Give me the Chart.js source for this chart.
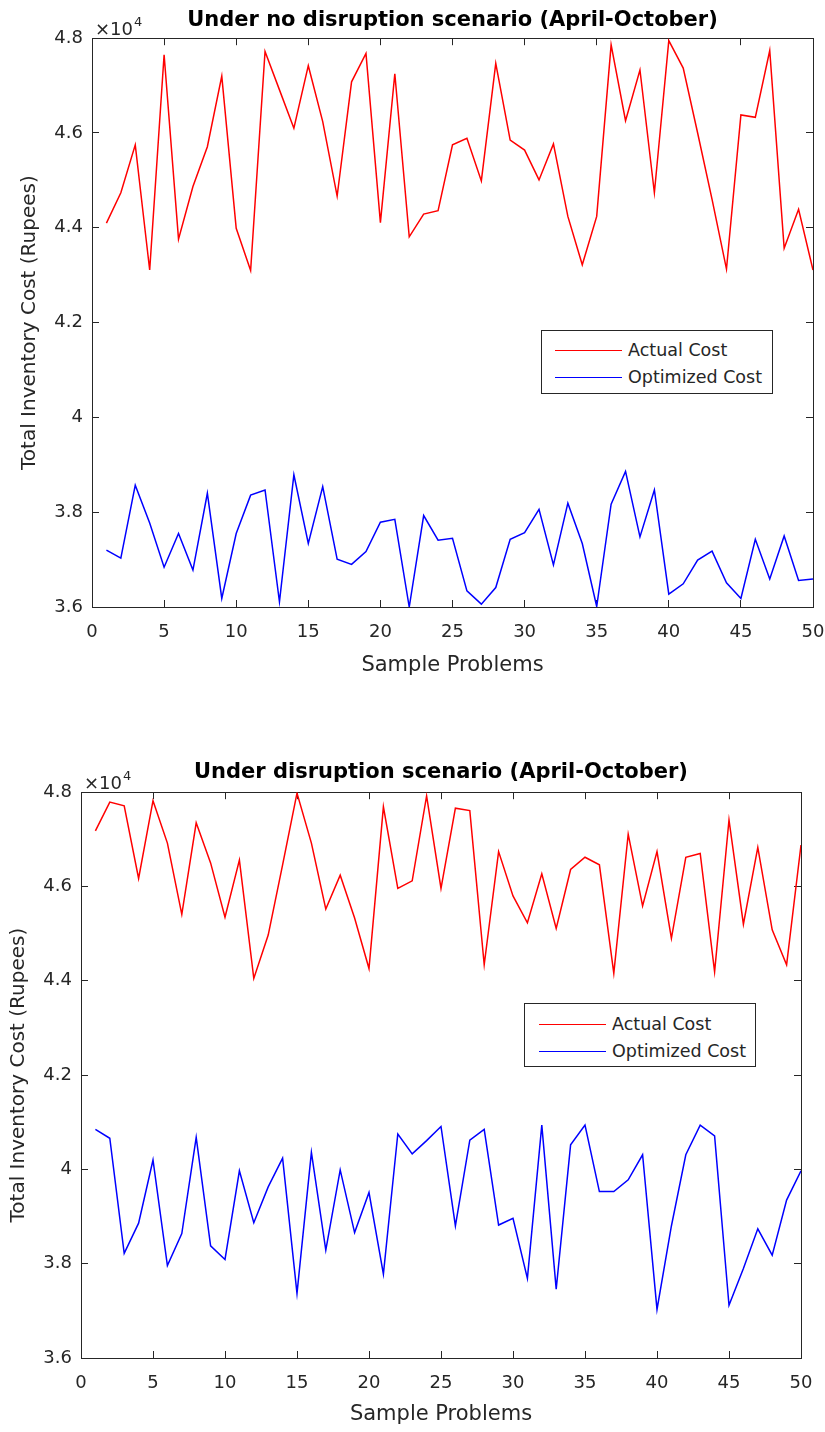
<!DOCTYPE html>
<html>
<head>
<meta charset="utf-8">
<script src="https://cdn.jsdelivr.net/npm/chart.js@4.4.0/dist/chart.umd.min.js"></script>
<style>
  body { margin: 0; background: #fff; }
  #page { position: relative; width: 825px; height: 1432px; overflow: hidden; background: #fff; }
  #page canvas { position: absolute; left: 0; }
  .legend { position: absolute; box-sizing: border-box; border: 1px solid #262626; background: #fff;
            font-family: 'DejaVu Sans'; font-size: 17.5px; color: #262626; }
  .legend .sample { position: absolute; height: 0; }
  .legend .label { position: absolute; line-height: 20px; white-space: nowrap; }
</style>
</head>
<body>
<div id="page">
  <canvas id="chartTop" width="825" height="700" style="top:0"></canvas>
  <canvas id="chartBottom" width="825" height="732" style="top:700px"></canvas>
  <div class="legend" id="legendTop" style="left:541px; top:330px; width:232px; height:64px"></div>
  <div class="legend" id="legendBottom" style="left:524px; top:1003px; width:232px; height:64px"></div>
</div>
<script>
// sample problem numbers (x axis)
var problems = [1, 2, 3, 4, 5, 6, 7, 8, 9, 10, 11, 12, 13, 14, 15, 16, 17, 18, 19, 20,
  21, 22, 23, 24, 25, 26, 27, 28, 29, 30, 31, 32, 33, 34, 35, 36, 37, 38, 39, 40,
  41, 42, 43, 44, 45, 46, 47, 48, 49, 50];

var seriesNames = ['Actual Cost', 'Optimized Cost'];
var seriesColors = ['#ff0000', '#0000ff'];

// total inventory cost in rupees
var noDisruptionActual = [44100, 44740, 45750, 43110, 47650, 43760, 44870, 45710, 47200, 43990,
  43100, 47720, 46910, 46100, 47420, 46240, 44670, 47080, 47680, 44110,
  47250, 43810, 44290, 44360, 45750, 45890, 44990, 47470, 45850, 45640,
  45010, 45770, 44240, 43220, 44240, 47860, 46260, 47330, 44740, 47950,
  47370, 46000, 44600, 43130, 46380, 46330, 47740, 43570, 44390, 43110];
var noDisruptionOptimized = [37200, 37030, 38570, 37770, 36840, 37550, 36780, 38400, 36180, 37550,
  38360, 38470, 36110, 38790, 37340, 38540, 37010, 36900, 37170, 37790,
  37850, 36000, 37930, 37410, 37450, 36340, 36060, 36410, 37430, 37570,
  38060, 36890, 38190, 37340, 36010, 38170, 38860, 37480, 38470, 36270,
  36490, 36990, 37180, 36510, 36180, 37430, 36590, 37500, 36560, 36590];
var disruptionActual = [47180, 47790, 47710, 46170, 47820, 46920, 45410, 47350, 46500, 45350,
  46560, 44050, 44970, 46460, 47980, 46920, 45520, 46240, 45330, 44260,
  47690, 45960, 46120, 47920, 45960, 47660, 47610, 44340, 46740, 45800,
  45230, 46270, 45110, 46360, 46620, 46460, 44160, 47110, 45590, 46740,
  44900, 46620, 46700, 44190, 47410, 45200, 46830, 45080, 44340, 46880];
var disruptionOptimized = [40850, 40660, 38220, 38860, 40200, 37960, 38640, 40680, 38380, 38090,
  39970, 38870, 39630, 40240, 37370, 40360, 38290, 39990, 38660, 39510,
  37780, 40750, 40330, 40610, 40910, 38800, 40620, 40850, 38820, 38960,
  37690, 40940, 37460, 40520, 40940, 39530, 39530, 39780, 40310, 37030,
  38800, 40310, 40940, 40710, 37120, 37900, 38740, 38180, 39350, 39970];

var xTicks = [0, 5, 10, 15, 20, 25, 30, 35, 40, 45, 50];
var yTicks = [36000, 38000, 40000, 42000, 44000, 46000, 48000];
var yExponent = 4;

var axisColor = '#262626';
Chart.defaults.font.family = '"DejaVu Sans"';
Chart.defaults.color = axisColor;

function toPoints(values) {
  return values.map(function (v, i) { return { x: problems[i], y: v }; });
}

// the "x10^4" multiplier above the y axis
var exponentLabel = {
  id: 'exponentLabel',
  afterDraw: function (chart) {
    var ctx = chart.ctx, area = chart.chartArea;
    ctx.save();
    ctx.fillStyle = axisColor;
    ctx.textBaseline = 'alphabetic';
    ctx.font = '18px "DejaVu Sans"';
    ctx.fillText('\u00d710', area.left + 3, area.top - 3);
    var w = ctx.measureText('\u00d710').width;
    ctx.font = '13px "DejaVu Sans"';
    ctx.fillText(String(yExponent), area.left + 4 + w, area.top - 12);
    ctx.restore();
  }
};

function noPad(s) { s.paddingLeft = 0; s.paddingRight = 0; s.paddingTop = 0; s.paddingBottom = 0; }

function boxAxis(pos, ax, size) {
  var lin = ax === 'x' ? { min: xTicks[0], max: xTicks[xTicks.length - 1] } : { min: yTicks[0], max: yTicks[yTicks.length - 1] };
  return {
    type: 'linear', position: pos, axis: ax, min: lin.min, max: lin.max,
    afterBuildTicks: function (s) { s.ticks = (ax === 'x' ? xTicks : yTicks).map(function (v) { return { value: v }; }); },
    afterFit: function (s) { if (ax === 'x') s.height = size; else s.width = size; noPad(s); },
    ticks: { display: false },
    grid: { drawOnChartArea: false, tickLength: -7, color: axisColor, tickColor: axisColor },
    border: { color: axisColor, width: 1 }
  };
}

function buildChart(id, title, actual, optimized, box) {
  var ctx = document.getElementById(id).getContext('2d');
  return new Chart(ctx, {
    type: 'line',
    data: {
      datasets: [
        { label: seriesNames[0], data: toPoints(actual), borderColor: seriesColors[0], borderWidth: 1.5, pointRadius: 0, fill: false, tension: 0 },
        { label: seriesNames[1], data: toPoints(optimized), borderColor: seriesColors[1], borderWidth: 1.5, pointRadius: 0, fill: false, tension: 0 }
      ]
    },
    options: {
      responsive: false,
      animation: false,
      events: [],
      layout: { padding: 0 },
      plugins: {
        legend: { display: false },
        tooltip: { enabled: false },
        title: {
          display: true, text: title, fullSize: false, color: '#000',
          font: { size: 21, weight: 'bold' },
          padding: { top: box.titleTop, bottom: box.titleBottom }
        }
      },
      scales: {
        x: {
          type: 'linear', position: 'bottom', min: 0, max: 50,
          afterBuildTicks: function (s) { s.ticks = xTicks.map(function (v) { return { value: v }; }); },
          afterFit: function (s) { s.height = box.xHeight; noPad(s); },
          ticks: { padding: 22, font: { size: 18 }, color: axisColor },
          grid: { drawOnChartArea: false, tickLength: -7, color: axisColor, tickColor: axisColor },
          border: { color: axisColor, width: 1 },
          title: { display: true, text: 'Sample Problems', font: { size: 21 }, color: axisColor, padding: { bottom: box.xTitleBottom } }
        },
        y: {
          type: 'linear', position: 'left', min: 36000, max: 48000,
          afterBuildTicks: function (s) { s.ticks = yTicks.map(function (v) { return { value: v }; }); },
          afterFit: function (s) { s.width = box.left; noPad(s); },
          ticks: {
            padding: 16, font: { size: 18 }, color: axisColor,
            callback: function (v) { return String(Number((v / Math.pow(10, yExponent)).toFixed(1))); }
          },
          grid: { drawOnChartArea: false, tickLength: -7, color: axisColor, tickColor: axisColor },
          border: { color: axisColor, width: 1 },
          title: { display: true, text: 'Total Inventory Cost (Rupees)', font: { size: 20 }, color: axisColor, padding: { top: box.yTitleTop } }
        },
        xTop: boxAxis('top', 'x', 0),
        yRight: boxAxis('right', 'y', box.right)
      }
    },
    plugins: [exponentLabel]
  });
}

function buildLegend(id, lineLeft, textLeft, rows) {
  var el = document.getElementById(id);
  seriesNames.forEach(function (name, i) {
    var line = document.createElement('div');
    line.className = 'sample';
    line.style.left = lineLeft + 'px';
    line.style.width = (textLeft - lineLeft - 6) + 'px';
    line.style.top = rows[i] + 'px';
    line.style.borderTop = '1.5px solid ' + seriesColors[i];
    el.appendChild(line);
    var txt = document.createElement('div');
    txt.className = 'label';
    txt.style.left = textLeft + 'px';
    txt.style.top = (rows[i] - 10) + 'px';
    txt.textContent = name;
    el.appendChild(txt);
  });
}

buildChart('chartTop', 'Under no disruption scenario (April-October)', noDisruptionActual, noDisruptionOptimized,
  { titleTop: 8, titleBottom: 5, left: 92, right: 12, xHeight: 93, xTitleBottom: 22, yTitleTop: 18 });
buildChart('chartBottom', 'Under disruption scenario (April-October)', disruptionActual, disruptionOptimized,
  { titleTop: 60, titleBottom: 7, left: 81, right: 24, xHeight: 74, xTitleBottom: 5, yTitleTop: 7 });

buildLegend('legendTop', 13, 86, [19, 46]);
buildLegend('legendBottom', 14, 87, [20, 47]);
</script>
</body>
</html>
